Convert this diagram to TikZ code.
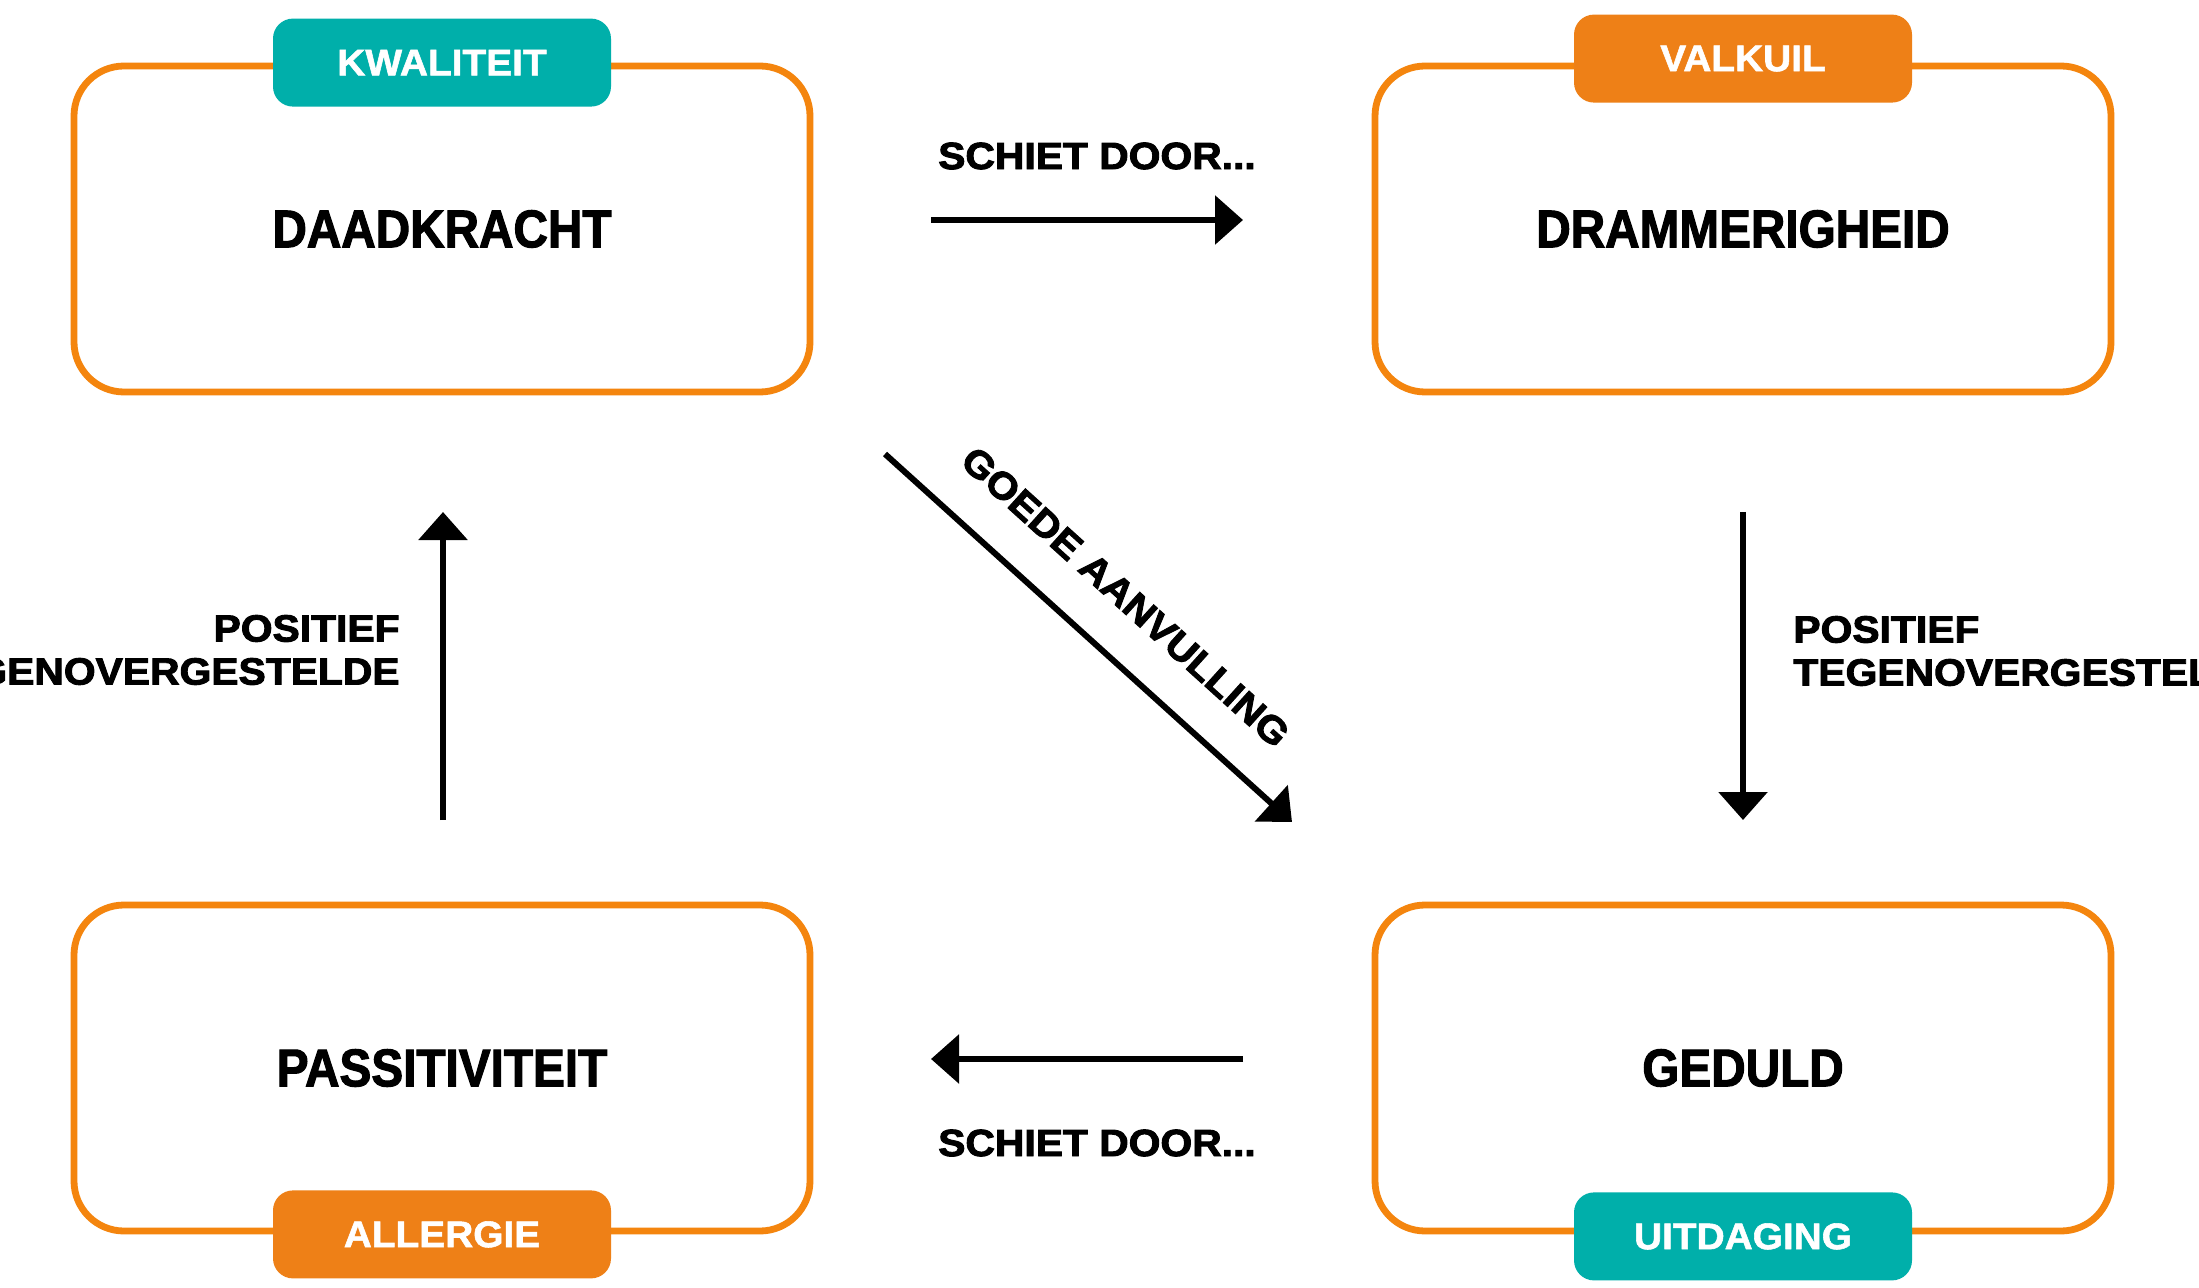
\documentclass[tikz,border=0pt]{standalone}
\usepackage{fontspec}
\usetikzlibrary{arrows.meta}
\newfontfamily\boxfont{Liberation Sans}[FakeStretch=0.90,FakeBold=2]
\newfontfamily\tagfont{Liberation Sans}[FakeStretch=1.05,FakeBold=1.5]
\newfontfamily\lblfont{Liberation Sans}[FakeStretch=1.08,FakeBold=2.5]
\definecolor{boxorange}{HTML}{F4850E}
\definecolor{tagorange}{HTML}{EE8017}
\definecolor{tagteal}{HTML}{00AFAA}
\begin{document}
\begin{tikzpicture}[x=0.5pt,y=-0.5pt,
  box/.style={draw=boxorange, line width=3.4pt, rounded corners=25pt, fill=white,
    minimum width=368pt, minimum height=163pt, inner sep=0pt,
    font=\boxfont\bfseries\fontsize{26.5}{30}\selectfont},
  tag/.style={rounded corners=10pt, minimum width=169pt, minimum height=44pt, inner sep=0pt,
    text=white, font=\tagfont\bfseries\fontsize{18.5}{21}\selectfont},
  lbl/.style={inner sep=0pt, font=\lblfont\bfseries\fontsize{18.9}{21.5}\selectfont},
  conn/.style={line width=3pt, -{Triangle[length=14pt,width=24pt]}}]
\clip (0,0) rectangle (2199,1288);
\fill[white] (0,0) rectangle (2199,1288);
% boxes
\node[box] (dk) at (442,229) {DAADKRACHT};
\node[box] (dr) at (1743,229) {DRAMMERIGHEID};
\node[box] (pa) at (442,1068) {PASSITIVITEIT};
\node[box] (ge) at (1743,1068) {GEDULD};
% tags
\node[tag, fill=tagteal] (kw) at (dk.north) {KWALITEIT};
\node[tag, fill=tagorange] (vk) at ([yshift=2pt]dr.north) {VALKUIL};
\node[tag, fill=tagorange] (al) at (pa.south) {ALLERGIE};
\node[tag, fill=tagteal] (ui) at ([yshift=-1pt]ge.south) {UITDAGING};
% arrow end points
\coordinate (t1) at (931,220);
\coordinate (t2) at (1243,220);
\coordinate (b1) at (1243,1059);
\coordinate (b2) at (931,1059);
\coordinate (l1) at (443,820);
\coordinate (l2) at (443,512);
\coordinate (r1) at (1743,512);
\coordinate (r2) at (1743,820);
\coordinate (d1) at (885,454);
\coordinate (d2) at (1292,822);
% connectors
\draw[conn] (t1) -- (t2);
\draw[conn] (b1) -- (b2);
\draw[conn] (l1) -- (l2);
\draw[conn] (r1) -- (r2);
\draw[conn] (d1) -- node[lbl, sloped, above=19.5pt, pos=0.5] (ga) {GOEDE AANVULLING} (d2);
% labels
\node[lbl] (sd1) at (1097,156) {SCHIET DOOR...};
\node[lbl] (sd2) at (1097,1143) {SCHIET DOOR...};
\node[lbl, anchor=east, align=right] (pt1) at (400,650) {POSITIEF\\TEGENOVERGESTELDE};
\node[lbl, anchor=west, align=left] (pt2) at (1793,651) {POSITIEF\\TEGENOVERGESTELDE};
\end{tikzpicture}
\end{document}
